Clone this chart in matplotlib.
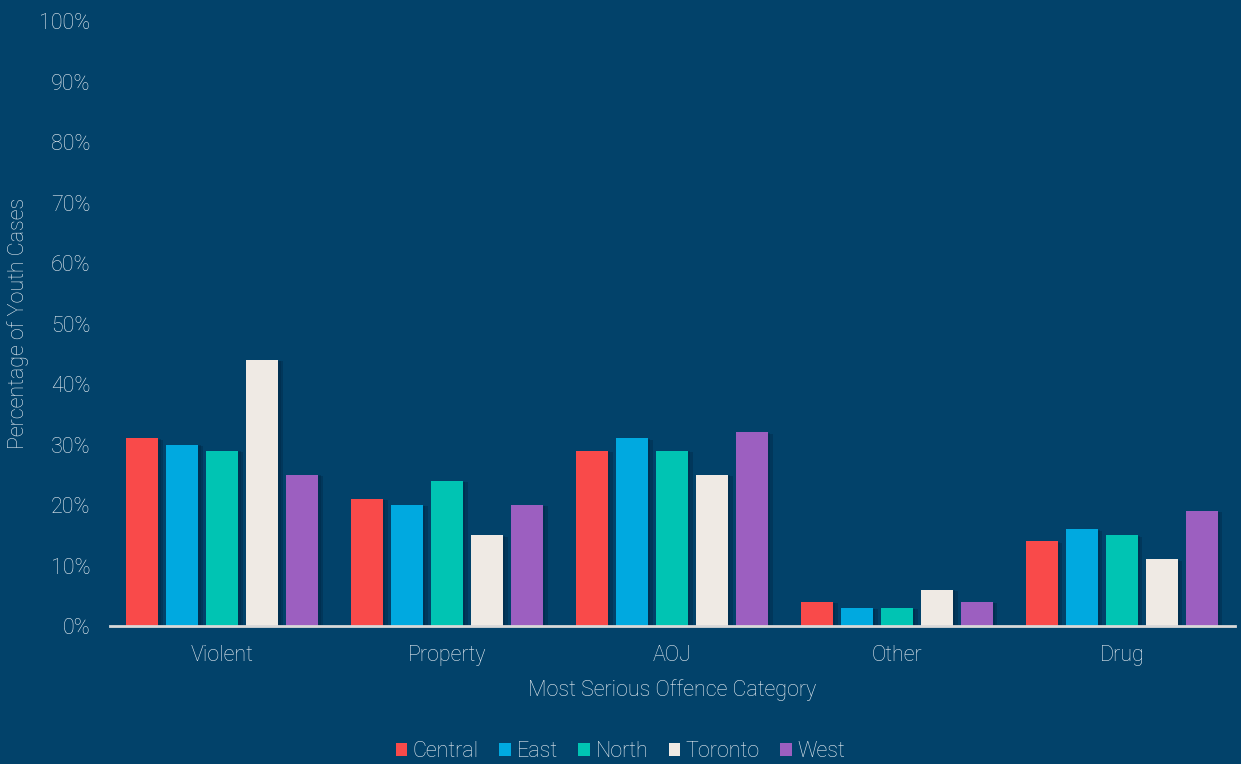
import matplotlib
matplotlib.use("Agg")
import matplotlib.pyplot as plt
import matplotlib.patheffects as pe
from matplotlib.patches import Patch
import numpy as np

categories = ["Violent", "Property", "AOJ", "Other", "Drug"]
series = ["Central", "East", "North", "Toronto", "West"]
values = {
    "Central": [31, 21, 29, 4, 14],
    "East":    [30, 20, 31, 3, 16],
    "North":   [29, 24, 29, 3, 15],
    "Toronto": [44, 15, 25, 6, 11],
    "West":    [25, 20, 32, 4, 19],
}
colors = ["#F94A4A", "#00A9E0", "#00C4B3", "#EFEAE4", "#9C5FC0"]
yticks = list(range(0, 101, 10))

bg = "#02426A"
txt = "#E8EEF3"

plt.rcParams['font.family'] = ['Roboto', 'DejaVu Sans']
plt.rcParams['font.weight'] = 'light'

fig = plt.figure(figsize=(12.41, 7.64), dpi=100, facecolor=bg)
ax = fig.add_axes([0.0886, 0.1806, 0.9064, 0.7919], facecolor=bg)

x = np.arange(len(categories))
pitch = 40 / 225
width = 32 / 225
for i, s in enumerate(series):
    offs = (i - 2) * pitch
    bars = ax.bar(x + offs, values[s], width=width, color=colors[i], zorder=3)
    for b in bars:
        b.set_path_effects([
            pe.SimplePatchShadow(offset=(3, -1), shadow_rgbFace="#00253F", alpha=0.35),
            pe.SimplePatchShadow(offset=(1.5, -0.5), shadow_rgbFace="#00253F", alpha=0.35),
            pe.Normal()])

ax.set_xlim(-0.5, 4.5)
ax.set_ylim(0, 100)
ax.set_yticks(yticks)
ax.set_yticklabels([f"{t}%" for t in yticks], fontsize=15.5, color=txt, fontweight='light')
ax.set_xticks(x)
ax.set_xticklabels(categories, fontsize=15.5, color=txt, fontweight='light')
ax.tick_params(axis='both', length=0)
ax.tick_params(axis='x', pad=14)
ax.tick_params(axis='y', pad=14)
for sp in ["top", "right", "left"]:
    ax.spines[sp].set_visible(False)
ax.spines["bottom"].set_color("#D9D9D9")
ax.spines["bottom"].set_linewidth(2)
ax.spines["bottom"].set_zorder(4)

ax.set_xlabel("Most Serious Offence Category", fontsize=15.5, color=txt, fontweight='light', labelpad=9)
fig.text(18 / 1241, 1 - 323 / 764, "Percentage of Youth Cases", rotation=90, ha='center', va='center',
         fontsize=15.5, color=txt, fontweight='light')

handles = [Patch(facecolor=c, edgecolor='none') for c in colors]
leg = fig.legend(handles, series, loc='center', bbox_to_anchor=(0.5, 0.016), ncol=5, frameon=False,
                 fontsize=15.5, handlelength=0.55, handleheight=0.55, handletextpad=0.25, columnspacing=0.95)
for t in leg.get_texts():
    t.set_color(txt)
    t.set_fontweight('light')

fig.savefig("out.png", dpi=100, facecolor=bg)
